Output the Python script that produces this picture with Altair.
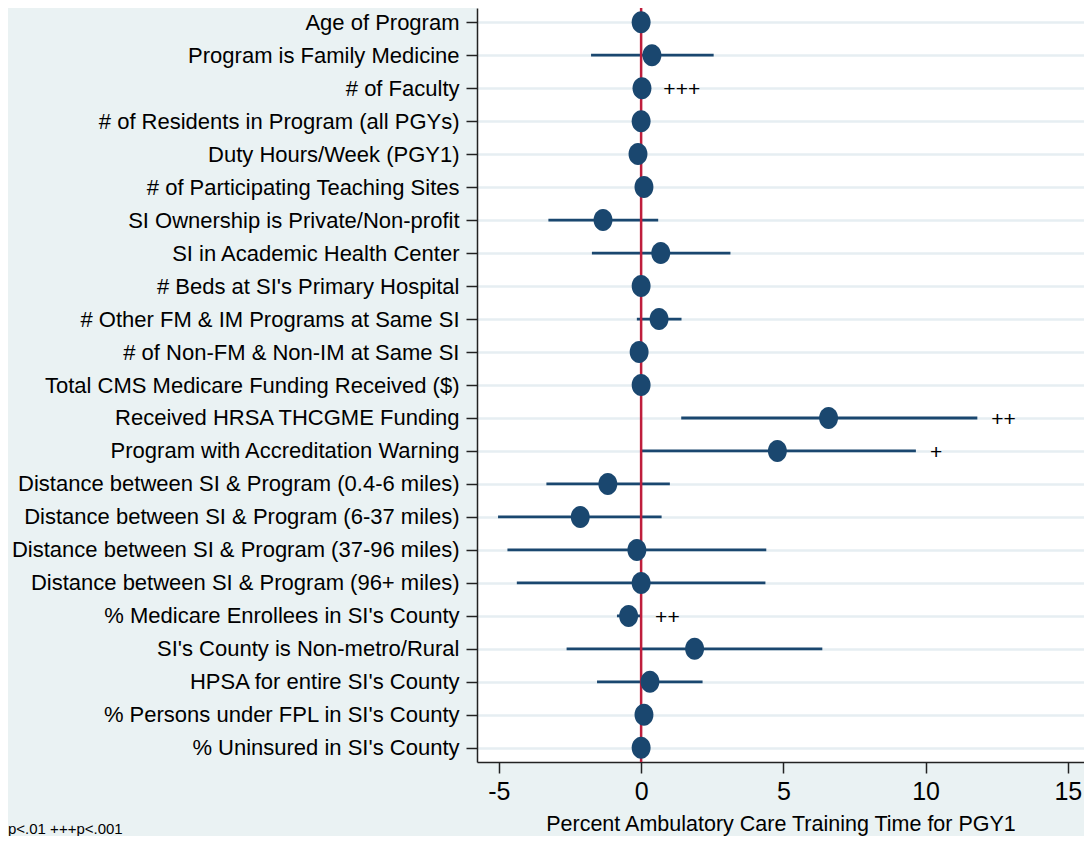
import altair as alt
import pandas as pd

labels = [
    "Age of Program",
    "Program is Family Medicine",
    "# of Faculty",
    "# of Residents in Program (all PGYs)",
    "Duty Hours/Week (PGY1)",
    "# of Participating Teaching Sites",
    "SI Ownership is Private/Non-profit",
    "SI in Academic Health Center",
    "# Beds at SI's Primary Hospital",
    "# Other FM & IM Programs at Same SI",
    "# of Non-FM & Non-IM at Same SI",
    "Total CMS Medicare Funding Received ($)",
    "Received HRSA THCGME Funding",
    "Program with Accreditation Warning",
    "Distance between SI & Program (0.4-6 miles)",
    "Distance between SI & Program (6-37 miles)",
    "Distance between SI & Program (37-96 miles)",
    "Distance between SI & Program (96+ miles)",
    "% Medicare Enrollees in SI's County",
    "SI's County is Non-metro/Rural",
    "HPSA for entire SI's County",
    "% Persons under FPL in SI's County",
    "% Uninsured in SI's County",
]
coef = [0.0, 0.38, 0.03, 0.0, -0.11, 0.10, -1.34, 0.69, 0.0, 0.63, -0.07, 0.0,
        6.59, 4.79, -1.17, -2.14, -0.15, 0.0, -0.44, 1.88, 0.31, 0.10, 0.0]
ci_low = [-0.05, -1.76, -0.20, -0.05, -0.20, -0.10, -3.26, -1.73, -0.05, -0.15, -0.15, -0.02,
          1.41, -0.04, -3.33, -5.03, -4.70, -4.37, -0.85, -2.62, -1.55, -0.10, -0.05]
ci_high = [0.05, 2.55, 0.29, 0.05, 0.0, 0.30, 0.60, 3.14, 0.05, 1.42, 0.05, 0.02,
           11.82, 9.66, 1.01, 0.72, 4.40, 4.37, 0.0, 6.37, 2.16, 0.30, 0.05]
sig = ["", "", "+++", "", "", "", "", "", "", "", "", "",
       "++", "+", "", "", "", "", "++", "", "", "", ""]
x_ticks = [-5, 0, 5, 10, 15]
x_title = "Percent Ambulatory Care Training Time for PGY1"
footnote = "p<.01 +++p<.001"

df = pd.DataFrame({"label": labels, "coef": coef, "lo": ci_low, "hi": ci_high, "sig": sig})

NAVY = "#1a476f"
RED = "#bf1e3c"
FONT = "Liberation Sans"

x_scale = alt.Scale(domain=[-5.77, 15.57], nice=False, zero=False)
y_scale = alt.Scale(type="point", padding=0.43)
y_enc = alt.Y(
    "label:N", sort=labels, scale=y_scale, title=None,
    axis=alt.Axis(
        labelFontSize=22, labelFont=FONT, labelColor="black", labelPadding=7,
        tickSize=11, tickColor="#222", tickWidth=1.5,
        domainColor="#222", domainWidth=1.5,
        grid=True, gridColor="#e6eef2", gridWidth=2.5, labelLimit=600,
    ),
)
x_axis = alt.Axis(
    values=x_ticks, labelExpr="'' + datum.value", labelFontSize=25, labelFont=FONT,
    labelColor="black", labelPadding=6, tickSize=11, tickColor="#222", tickWidth=1.5,
    domainColor="#222", domainWidth=1.5, grid=False,
    title=x_title, titleFont=FONT, titleFontSize=21.5, titleFontWeight="normal",
    titleColor="black", titlePadding=9,
)

base = alt.Chart(df)

ci = base.mark_rule(color=NAVY, strokeWidth=2.8).encode(
    x=alt.X("lo:Q", scale=x_scale, axis=x_axis),
    x2="hi:Q",
    y=y_enc,
)

zero = alt.Chart(pd.DataFrame({"z": [0]})).mark_rule(color=RED, strokeWidth=2.5).encode(
    x=alt.X("z:Q", scale=x_scale)
)

ellipse = "M-0.86,0 A0.86,1 0 1,0 0.86,0 A0.86,1 0 1,0 -0.86,0 Z"
pts = base.mark_point(filled=True, shape=ellipse, size=484, color=NAVY, opacity=1).encode(
    x=alt.X("coef:Q", scale=x_scale),
    y=alt.Y("label:N", sort=labels, scale=y_scale),
)

txt = base.transform_filter("datum.sig != ''").mark_text(
    align="left", baseline="middle", dx=14, dy=2, fontSize=21, font=FONT,
    color="black",
).encode(
    x=alt.X("hi:Q", scale=x_scale),
    y=alt.Y("label:N", sort=labels, scale=y_scale),
    text="sig:N",
)

note = alt.Chart(pd.DataFrame({"t": [footnote]})).mark_text(
    align="left", baseline="alphabetic", fontSize=15, font=FONT, color="black"
).encode(x=alt.value(-469), y=alt.value(826), text="t:N")

chart = alt.layer(ci, zero, pts, txt, note).properties(
    width=607, height=754,
    autosize=alt.AutoSizeParams(type="none"),
    padding={"left": 469, "top": 0, "right": 0, "bottom": 74},
    background="#eaf2f3",
).configure_view(fill="white", strokeWidth=0)

chart.save("out.html", embed_options={"renderer": "svg", "actions": False})
